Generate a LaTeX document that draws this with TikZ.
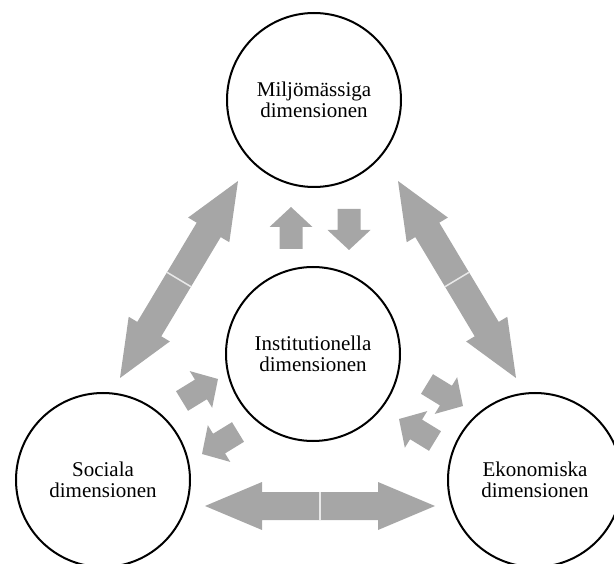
\documentclass[tikz,border=0pt]{standalone}
\usepackage{fontspec}
\setmainfont{Liberation Serif}
\usetikzlibrary{calc}
\definecolor{arrowgray}{HTML}{A6A6A6}
\newcommand{\blockarrow}[5]{%
  \coordinate (hb) at ($(#2)!#5!(#1)$);
  \fill[arrowgray] ($(#1)!#3!90:(#2)$) -- ($(hb)!#3!90:(#2)$) -- ($(hb)!#4!90:(#2)$) -- (#2)
    -- ($(hb)!#4!-90:(#2)$) -- ($(hb)!#3!-90:(#2)$) -- ($(#1)!#3!-90:(#2)$) -- cycle;
}
\newcommand{\bigarrow}[2]{\blockarrow{#1}{#2}{14pt}{24pt}{57pt}}
\newcommand{\smallarrow}[2]{\blockarrow{#1}{#2}{11.5pt}{21.5pt}{20pt}}

\begin{document}
\begin{tikzpicture}[x=1pt,y=-1pt,
    dimcircle/.style={circle,draw,line width=2pt,minimum size=174pt,inner sep=0pt,
      align=center,font=\fontsize{21}{21.5}\selectfont},
    seam/.style={draw=white!75!arrowgray,line width=1.5pt}]
    \useasboundingbox (0,0) rectangle (614,564);
    \node[dimcircle] (milj) at (314,100) {Miljömässiga\\dimensionen};
    \node[dimcircle] (inst) at (313,354) {Institutionella\\dimensionen};
    \node[dimcircle] (soc) at (103,480) {Sociala\\dimensionen};
    \node[dimcircle] (eko) at (535,480) {Ekonomiska\\dimensionen};
    % big double arrows
    \coordinate (ms) at (179,279.5);
    \coordinate (ms1) at (238,181);
    \coordinate (ms2) at (120,378);
    \bigarrow{ms}{ms1} \bigarrow{ms}{ms2}
    \draw[seam] ($(ms)!14pt!90:(ms1)$) -- ($(ms)!14pt!-90:(ms1)$);
    \coordinate (me) at (457,279.5);
    \coordinate (me1) at (398,181);
    \coordinate (me2) at (516,378);
    \bigarrow{me}{me1} \bigarrow{me}{me2}
    \draw[seam] ($(me)!14pt!90:(me1)$) -- ($(me)!14pt!-90:(me1)$);
    \coordinate (se) at (320,506);
    \coordinate (se1) at (205,506);
    \coordinate (se2) at (435,506);
    \bigarrow{se}{se1} \bigarrow{se}{se2}
    \draw[seam] ($(se)!14pt!90:(se1)$) -- ($(se)!14pt!-90:(se1)$);
    % small arrows
    \coordinate (im1) at (291,249); \coordinate (im2) at (291,207);
    \coordinate (mi1) at (349,209); \coordinate (mi2) at (349,250);
    \smallarrow{im1}{im2} \smallarrow{mi1}{mi2}
    \coordinate (si1) at (182,401); \coordinate (si2) at (218,379);
    \coordinate (is1) at (238,432); \coordinate (is2) at (202,454);
    \smallarrow{si1}{si2} \smallarrow{is1}{is2}
    \coordinate (ie1) at (427,384); \coordinate (ie2) at (463,406);
    \coordinate (ei1) at (435,441); \coordinate (ei2) at (399,419);
    \smallarrow{ie1}{ie2} \smallarrow{ei1}{ei2}
\end{tikzpicture}
\end{document}
